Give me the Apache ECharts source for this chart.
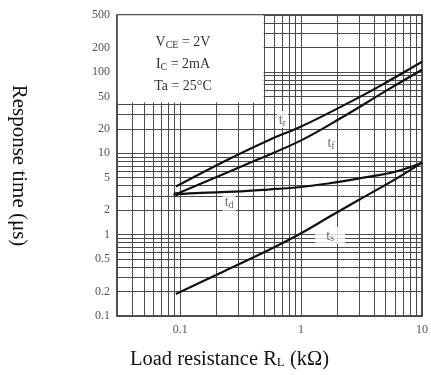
<!DOCTYPE html>
<html>
<head>
<meta charset="utf-8">
<script src="https://cdn.jsdelivr.net/npm/echarts@6/dist/echarts.min.js"></script>
<style>
  html, body { margin: 0; padding: 0; background: #fff; }
  #chart { width: 431px; height: 375px; }
</style>
</head>
<body>
<div id="chart"></div>
<script>
const SERIF = '"Liberation Serif", "Times New Roman", serif';

// Switching times (µs) against load resistance (kΩ)
const trLoad = [0.092, 0.249, 0.555, 1, 2.31, 4.25, 10];
const trTime = [3.9, 8.4, 14.8, 21.3, 39.6, 64, 133];
const tfLoad = [0.092, 0.441, 1, 2.1, 5.24, 10];
const tfTime = [3.13, 8.42, 14.4, 26.7, 60.5, 106];
const tdLoad = [0.092, 0.149, 0.283, 0.533, 1, 1.67, 3.19, 5.98, 10];
const tdTime = [3.13, 3.25, 3.37, 3.58, 3.85, 4.25, 4.98, 5.93, 7.66];
const tsLoad = [0.092, 0.222, 0.555, 1, 1.74, 3.07, 5.98, 10];
const tsTime = [0.186, 0.346, 0.662, 1.04, 1.68, 2.72, 4.77, 7.66];

// Curve name subscripts and where each name sits
const curveSubs = ['r', 'f', 'd', 's'];
const curveLabelLoad = [0.70, 1.77, 0.254, 1.74];
const curveLabelTime = [26, 13.6, 2.5, 0.98];

// Axis tick labels
const xTickLabels = [0.1, 1, 10];
const yTickLabels = [0.1, 0.2, 0.5, 1, 2, 5, 10, 20, 50, 100, 200, 500];

// Log-paper grid lines
const xGridValues = [0.03, 0.04, 0.05, 0.06, 0.07, 0.08, 0.09,
  0.1, 0.2, 0.3, 0.4, 0.5, 0.6, 0.7, 0.8, 0.9,
  1, 2, 3, 4, 5, 6, 7, 8, 9, 10];
const yGridValues = [0.1, 0.2, 0.3, 0.4, 0.5, 0.6, 0.7, 0.8, 0.9,
  1, 2, 3, 4, 5, 6, 7, 8, 9,
  10, 20, 30, 40, 50, 60, 70, 80, 90,
  100, 200, 300, 400, 500];

// Test conditions panel: corners in data units
const boxLoad = [0.0305, 0.49];
const boxTime = [42, 495];
const conditions = ['{m|V}{s|CE}{m| = 2V}', '{m|I}{s|C}{m| = 2mA}', '{m|Ta = 25°C}'];

const zip = (xs, ys) => xs.map((x, i) => [x, ys[i]]);

const curveStyle = {
  type: 'line',
  smooth: 0.4,
  symbol: 'none',
  lineStyle: { color: '#111', width: 2.2 },
  z: 5,
  silent: true
};

const chart = echarts.init(document.getElementById('chart'), null, { renderer: 'canvas' });

chart.setOption({
  animation: false,
  backgroundColor: '#fff',
  title: {
    text: conditions.join('\n'),
    left: 178, top: 26,
    textAlign: 'center',
    z: 10,
    textStyle: {
      fontWeight: 'normal',
      lineHeight: 22,
      rich: {
        m: { fontFamily: SERIF, fontSize: 14, fontWeight: 'normal', color: '#333', lineHeight: 22 },
        s: { fontFamily: SERIF, fontSize: 10, fontWeight: 'normal', color: '#333', lineHeight: 22, padding: [6, 0, 0, 0] }
      }
    }
  },
  grid: {
    left: 117, right: 9, top: 15, bottom: 58,
    show: true, borderColor: '#1a1a1a', borderWidth: 1.5,
    backgroundColor: 'transparent'
  },
  xAxis: {
    type: 'log', logBase: 10, min: 0.03, max: 10,
    axisLine: { show: false },
    axisTick: { show: false },
    splitLine: { show: false },
    axisLabel: {
      customValues: xTickLabels,
      color: '#555', fontFamily: SERIF, fontSize: 12, margin: 8,
      formatter: v => String(+v.toPrecision(3))
    },
    name: '{a|Load resistance R}{b|L}{a| (kΩ)}',
    nameLocation: 'middle',
    nameGap: 33,
    nameTextStyle: {
      padding: [0, 80, 0, 0],
      rich: {
        a: { fontFamily: SERIF, fontSize: 20.5, color: '#111' },
        b: { fontFamily: SERIF, fontSize: 13, color: '#111', padding: [7, 0, 0, 0] }
      }
    }
  },
  yAxis: {
    type: 'log', logBase: 10, min: 0.1, max: 500,
    axisLine: { show: false },
    axisTick: { show: false },
    splitLine: { show: false },
    axisLabel: {
      customValues: yTickLabels,
      color: '#555', fontFamily: SERIF, fontSize: 12, margin: 7,
      formatter: v => String(+v.toPrecision(3))
    },
    name: 'Response time (μs)',
    nameLocation: 'middle',
    nameRotate: -90,
    nameGap: 88,
    nameTextStyle: { fontFamily: SERIF, fontSize: 21, color: '#111' }
  },
  series: [
    {
      // log-paper grid
      type: 'line', data: [], z: 1, silent: true,
      markLine: {
        z: 1,
        silent: true, symbol: 'none', animation: false,
        label: { show: false },
        lineStyle: { color: '#4a4a4a', width: 1, type: 'solid' },
        data: [
          ...xGridValues.map(v => ({ xAxis: v })),
          ...yGridValues.map(v => ({ yAxis: v }))
        ]
      }
    },
    {
      // blank panel behind the test conditions
      type: 'line', data: [], z: 3, silent: true,
      markArea: {
        z: 3,
        silent: true,
        itemStyle: { color: '#fff', opacity: 1 },
        label: { show: false },
        data: [[
          { coord: [boxLoad[0], boxTime[0]] },
          { coord: [boxLoad[1], boxTime[1]] }
        ]]
      }
    },
    Object.assign({ name: 'tr', data: zip(trLoad, trTime) }, curveStyle),
    Object.assign({ name: 'tf', data: zip(tfLoad, tfTime) }, curveStyle),
    Object.assign({ name: 'td', data: zip(tdLoad, tdTime) }, curveStyle),
    Object.assign({ name: 'ts', data: zip(tsLoad, tsTime) }, curveStyle),
    {
      // start point dot shared by td and tf
      type: 'scatter', z: 6, silent: true,
      symbol: 'circle', symbolSize: 5,
      itemStyle: { color: '#111' },
      data: [[tdLoad[0], tdTime[0]]]
    },
    {
      // curve names
      type: 'scatter', z: 7, silent: true,
      symbolSize: 0,
      data: curveSubs.map((s, i) => ({
        value: [curveLabelLoad[i], curveLabelTime[i]],
        label: {
          padding: s === 's' ? [1, 11, 0, 11] : [1, 2, 0, 2]
        }
      })),
      label: {
        show: true, position: 'inside',
        backgroundColor: '#fff',
        formatter: p => '{t|t}{s|' + curveSubs[p.dataIndex] + '}',
        rich: {
          t: { fontFamily: SERIF, fontSize: 14, color: '#444' },
          s: { fontFamily: SERIF, fontSize: 10, color: '#444', padding: [6, 0, 0, 0] }
        }
      }
    }
  ]
});
</script>
</body>
</html>
